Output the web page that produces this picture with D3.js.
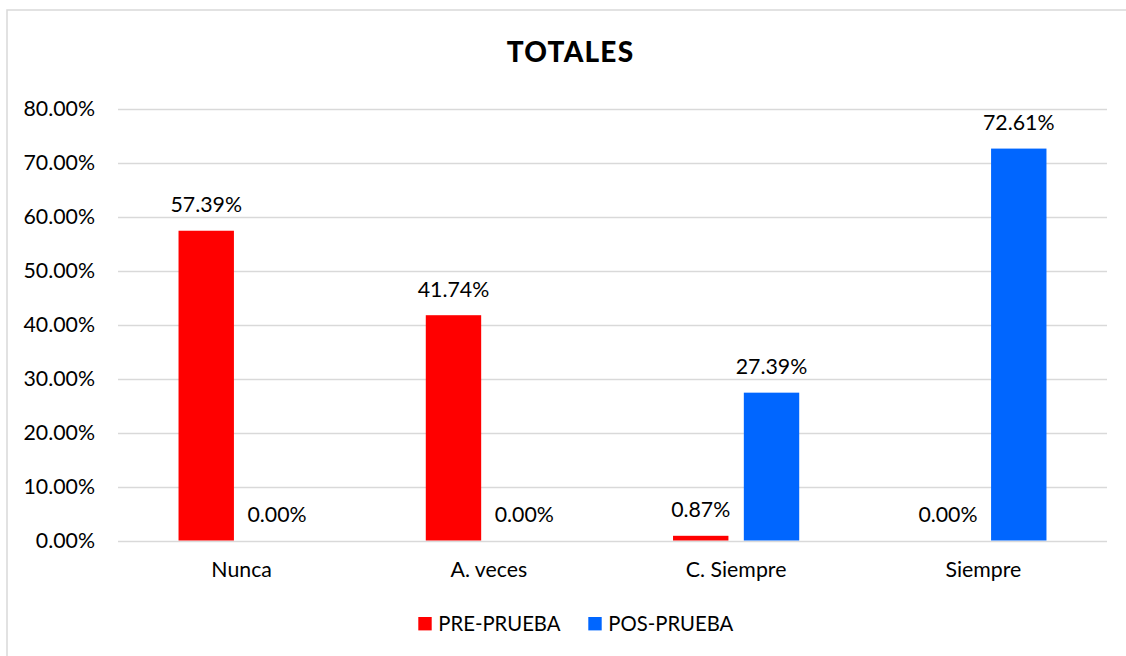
<!DOCTYPE html>
<html>
<head>
<meta charset="utf-8">
<script src="https://cdn.jsdelivr.net/npm/d3@7"></script>
<style>
  html, body { margin: 0; padding: 0; background: #fff; }
  svg { display: block; }
  text { font-family: Lato, "Open Sans", sans-serif; fill: #000; }
</style>
</head>
<body>
<svg id="chart" width="1126" height="656"></svg>
<script>
const title = "TOTALES";
const categories = ["Nunca", "A. veces", "C. Siempre", "Siempre"];
const seriesNames = ["PRE-PRUEBA", "POS-PRUEBA"];
const prePrueba = [57.39, 41.74, 0.87, 0.00];
const posPrueba = [0.00, 0.00, 27.39, 72.61];
const yTicks = [0, 10, 20, 30, 40, 50, 60, 70, 80];
const colors = ["#FF0000", "#0066FF"];

const data = categories.map((c, i) => ({ cat: c, values: [prePrueba[i], posPrueba[i]] }));

const svg = d3.select("#chart");
const FS = 21.3;

// outer chart border (only top/left visible in frame)
svg.append("rect")
  .attr("x", 7).attr("y", 10).attr("width", 1140).attr("height", 700)
  .attr("fill", "none").attr("stroke", "#d9d9d9").attr("stroke-width", 1.5);

const plot = { left: 118, right: 1107, top: 108.7, bottom: 540.5 };

const y = d3.scaleLinear().domain([0, 80]).range([plot.bottom, plot.top]);
const x0 = d3.scaleBand().domain(categories).range([plot.left, plot.right]).padding(0);
const x1 = d3.scaleBand().domain(seriesNames).range([0, x0.bandwidth()])
  .paddingInner(0.2175).paddingOuter(0.855);

// gridlines
svg.append("g").selectAll("line").data(yTicks).join("line")
  .attr("x1", plot.left).attr("x2", plot.right)
  .attr("y1", d => Math.round(y(d)) + 0.5).attr("y2", d => Math.round(y(d)) + 0.5)
  .attr("stroke", "#d9d9d9").attr("stroke-width", 1.3);

// y axis labels
const fmt = d => d.toFixed(2) + "%";
svg.append("g").selectAll("text").data(yTicks).join("text")
  .attr("x", 95).attr("y", d => y(d) + 7.3)
  .attr("text-anchor", "end").attr("font-size", FS)
  .text(fmt);

// bars
const groups = svg.append("g").selectAll("g").data(data).join("g")
  .attr("transform", d => `translate(${x0(d.cat)},0)`);

groups.selectAll("rect").data(d => d.values.map((v, i) => ({ v, s: seriesNames[i], i })))
  .join("rect")
  .attr("x", d => x1(d.s)).attr("width", x1.bandwidth())
  .attr("y", d => y(d.v)).attr("height", d => y(0) - y(d.v))
  .attr("fill", d => colors[d.i]);

groups.selectAll("text").data(d => d.values.map((v, i) => ({ v, s: seriesNames[i], i })))
  .join("text")
  .attr("x", d => x1(d.s) + x1.bandwidth() / 2)
  .attr("y", d => y(d.v) - 18.7)
  .attr("text-anchor", "middle").attr("font-size", FS)
  .text(d => fmt(d.v));

// category labels
svg.append("g").selectAll("text").data(categories).join("text")
  .attr("x", d => x0(d) + x0.bandwidth() / 2).attr("y", 577.3)
  .attr("text-anchor", "middle").attr("font-size", FS)
  .text(d => d);

// title
svg.append("text").attr("x", 570.5).attr("y", 61.5)
  .attr("text-anchor", "middle").attr("font-size", 28).attr("font-weight", "900")
  .attr("letter-spacing", 1.2)
  .text(title);

// legend
const legendItems = [{ name: seriesNames[0], x: 418.3 }, { name: seriesNames[1], x: 588.3 }];
const lg = svg.append("g").selectAll("g").data(legendItems).join("g");
lg.append("rect").attr("x", d => d.x).attr("y", 617).attr("width", 13.4).attr("height", 13.4)
  .attr("fill", (d, i) => colors[i]);
lg.append("text").attr("x", d => d.x + 20).attr("y", 630.7).attr("font-size", 20.3)
  .text(d => d.name);
</script>
</body>
</html>
